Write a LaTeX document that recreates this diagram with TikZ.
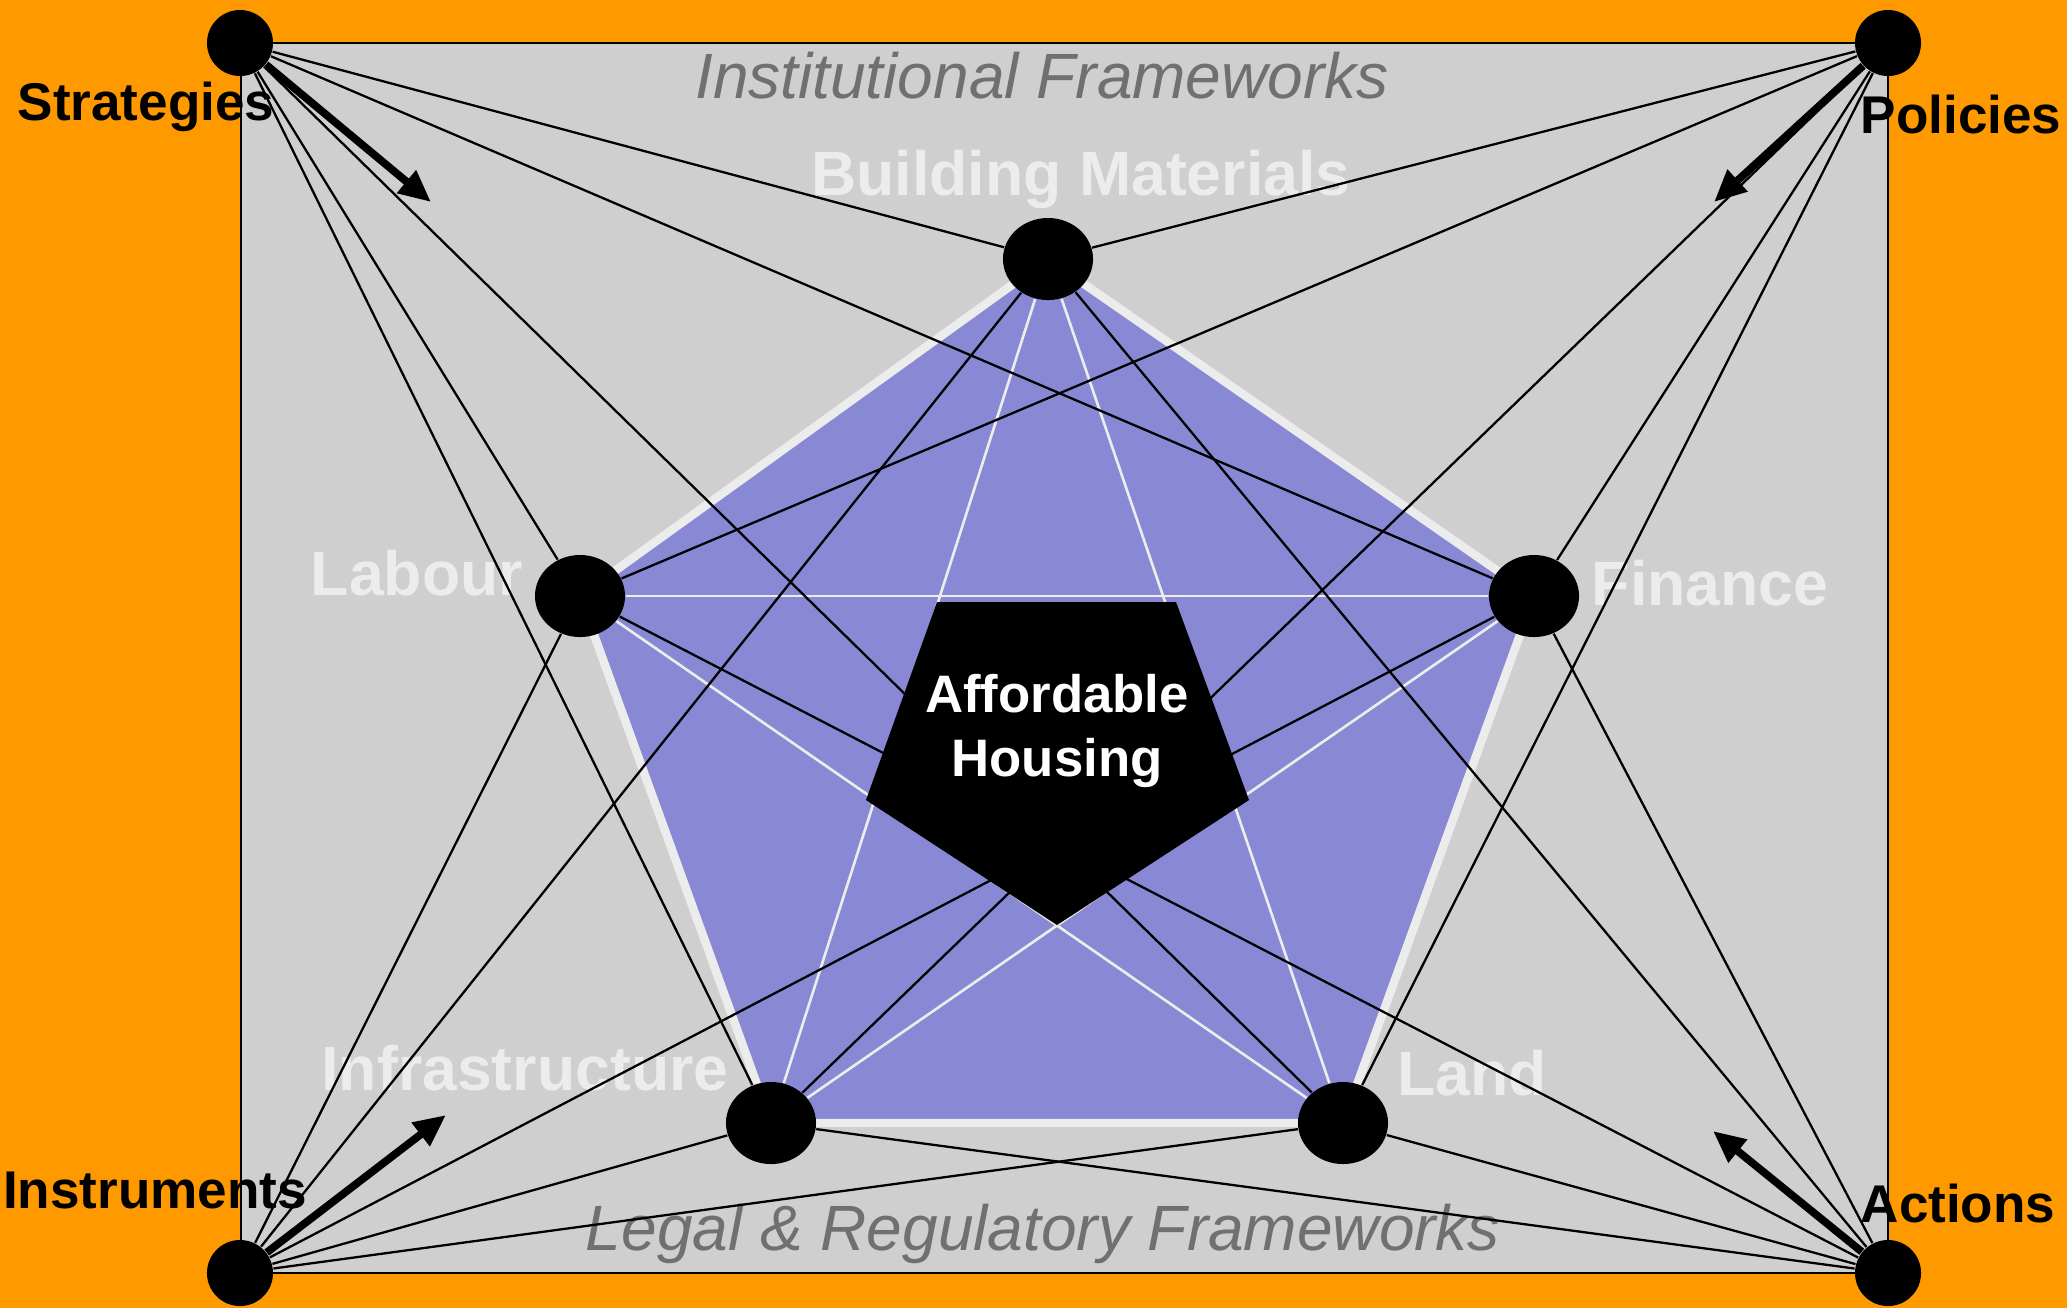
\documentclass[tikz,border=0pt]{standalone}
\usepackage{fontspec}
\setmainfont{Liberation Sans}
\usepackage{xcolor}
\usepackage{tikz}
\usetikzlibrary{shapes.geometric, arrows.meta, backgrounds}

\definecolor{frameorange}{RGB}{255,153,0}
\definecolor{panelgray}{RGB}{207,207,207}
\definecolor{factorblue}{RGB}{136,136,212}
\definecolor{paleline}{RGB}{236,236,236}
\definecolor{notegray}{RGB}{112,112,112}

\begin{document}
\begin{tikzpicture}[
  x=0.01cm, y=-0.01cm,
  corner/.style    = {circle, fill=black, minimum size=0.66cm, inner sep=0pt},
  factor/.style    = {ellipse, fill=black, minimum width=0.9cm,
                      minimum height=0.82cm, inner sep=0pt},
  cornerlbl/.style = {anchor=base, inner sep=0pt,
                      font=\fontsize{15.1}{18}\selectfont\bfseries},
  factorlbl/.style = {anchor=base, inner sep=0pt, text=paleline,
                      font=\fontsize{17.8}{21}\selectfont\bfseries},
  framelbl/.style  = {anchor=base, inner sep=0pt, text=notegray,
                      font=\fontsize{18.2}{22}\selectfont\itshape},
  house/.style     = {text=white, align=center, inner sep=0pt,
                      font=\fontsize{15}{18.2}\selectfont\bfseries},
  link/.style      = {black, line width=0.65pt},
  diag/.style      = {paleline, line width=0.75pt},
  push/.style      = {-{Triangle[length=3.2mm, width=2.8mm]}, line width=2.2pt}
]

%% ── CORNERS ──────────────────────────────────────────────────────
\node[corner] at (240,  43)  (strat) {};
\node[corner] at (1888, 43)  (pol)   {};
\node[corner] at (240,  1273) (instr) {};
\node[corner] at (1888, 1273) (act)   {};

%% ── FACTORS (outer pentagon) ─────────────────────────────────────
\node[factor] at (1048, 259)  (mat)   {};
\node[factor] at (580,  596)  (lab)   {};
\node[factor] at (1534, 596)  (fin)   {};
\node[factor] at (771,  1123) (infra) {};
\node[factor] at (1343, 1123) (land)  {};

%% ── LABELS ───────────────────────────────────────────────────────
\node[cornerlbl] at (146,  120)  (stratlbl) {Strategies};
\node[cornerlbl] at (1961, 133)  (pollbl)   {Policies};
\node[cornerlbl] at (155,  1208) (instrlbl) {Instruments};
\node[cornerlbl] at (1958, 1222) (actlbl)   {Actions};

\node[framelbl] at (1042, 98)   (instfw)  {Institutional Frameworks};
\node[framelbl] at (1043, 1250) (legalfw) {Legal \& Regulatory Frameworks};

\node[factorlbl] at (1081, 195)  (matlbl)   {Building Materials};
\node[factorlbl] at (417,  595)  (lablbl)   {Labour};
\node[factorlbl] at (1710, 605)  (finlbl)   {Finance};
\node[factorlbl] at (525,  1090) (infralbl) {Infrastructure};
\node[factorlbl] at (1472, 1095) (landlbl)  {Land};

%% ── LINKS corner -> factor ───────────────────────────────────────
\draw[link] (strat) -- (mat);
\draw[link] (strat) -- (lab);
\draw[link] (strat) -- (fin);
\draw[link] (strat) -- (infra);
\draw[link] (strat) -- (land);

\draw[link] (pol) -- (mat);
\draw[link] (pol) -- (lab);
\draw[link] (pol) -- (fin);
\draw[link] (pol) -- (infra);
\draw[link] (pol) -- (land);

\draw[link] (instr) -- (mat);
\draw[link] (instr) -- (lab);
\draw[link] (instr) -- (fin);
\draw[link] (instr) -- (infra);
\draw[link] (instr) -- (land);

\draw[link] (act) -- (mat);
\draw[link] (act) -- (lab);
\draw[link] (act) -- (fin);
\draw[link] (act) -- (infra);
\draw[link] (act) -- (land);

%% ── ARROWS ───────────────────────────────────────────────────────
\coordinate (stratTip) at (431,  202);
\coordinate (polTip)   at (1714, 202);
\coordinate (instrTip) at (446,  1115);
\coordinate (actTip)   at (1713, 1131);
\draw[push] (strat) -- (stratTip);
\draw[push] (pol)   -- (polTip);
\draw[push] (instr) -- (instrTip);
\draw[push] (act)   -- (actTip);

%% ── CENTRE ───────────────────────────────────────────────────────
\fill[black] (937,602) -- (1176,602) -- (1249,800) -- (1057,925) -- (866,800) -- cycle;
\node[house] at (1057, 731) (house) {Affordable\\Housing};

%% ── BACKGROUND ───────────────────────────────────────────────────
\begin{scope}[on background layer]
  \fill[frameorange] (0,0) rectangle (2067,1308);
  \filldraw[fill=panelgray, draw=black, line width=0.7pt] (241,43) rectangle (1888,1273);
  \filldraw[fill=factorblue, draw=paleline, line width=2.4pt]
    (mat.center) -- (fin.center) -- (land.center) -- (infra.center) -- (lab.center) -- cycle;
  \draw[diag] (mat) -- (infra);
  \draw[diag] (mat) -- (land);
  \draw[diag] (lab) -- (fin);
  \draw[diag] (lab) -- (land);
  \draw[diag] (fin) -- (infra);
\end{scope}

\end{tikzpicture}
\end{document}
